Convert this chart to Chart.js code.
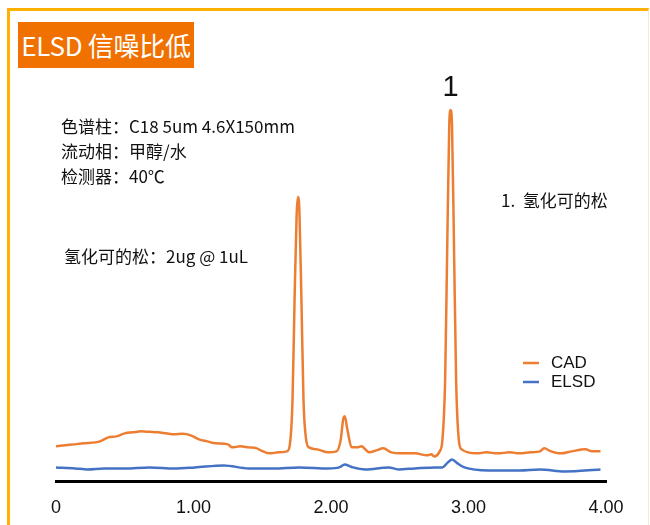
<!DOCTYPE html>
<html>
<head>
<meta charset="utf-8">
<script src="https://cdn.jsdelivr.net/npm/chart.js@4/dist/chart.umd.min.js"></script>
<style>
  html, body { margin: 0; padding: 0; background: #fff; }
  #wrap { position: relative; width: 650px; height: 525px; overflow: hidden; }
  #frame {
    position: absolute; left: 7px; top: 8px; right: 1px; bottom: -5px;
    border-top: 3px solid #FFB000; border-left: 3px solid #FFB000;
    border-right: 1px solid #F3EBDA;
  }
  #title {
    position: absolute; left: 18px; top: 22px; width: 176px; height: 46px;
    background: #F07100; color: #fff;
    font: 26px "Noto Sans CJK SC", "Noto Sans", sans-serif;
    line-height: 46px; text-align: center; letter-spacing: -0.3px;
  }
  canvas { position: absolute; left: 0; top: 0; }
</style>
</head>
<body>
<div id="wrap">
  <div id="frame"></div>
  <canvas id="chart-trace" width="650" height="527"></canvas>
  <div id="title">ELSD 信噪比低</div>
</div>
<script>
  // Retention time (min) and detector signal for each trace
  var cadTime = [0, 0.1, 0.2, 0.32, 0.38, 0.44, 0.5, 0.56, 0.62, 0.68, 0.74, 0.8, 0.86, 0.92, 0.98,
    1.04, 1.1, 1.16, 1.25, 1.28, 1.34, 1.4, 1.46, 1.49, 1.55, 1.62, 1.68, 1.7, 1.72, 1.735, 1.75,
    1.76, 1.77, 1.785, 1.8, 1.82, 1.84, 1.9, 1.98, 2.04, 2.07, 2.09, 2.1, 2.12, 2.15, 2.19, 2.22,
    2.28, 2.33, 2.38, 2.44, 2.52, 2.61, 2.7, 2.73, 2.75, 2.79, 2.81, 2.83, 2.845, 2.86, 2.87, 2.88,
    2.895, 2.91, 2.93, 2.95, 3.06, 3.13, 3.21, 3.3, 3.37, 3.45, 3.52, 3.55, 3.6, 3.67, 3.75, 3.85,
    3.9, 3.96];
  var cadSignal = [35, 36.5, 38, 40, 44, 45, 48, 49, 50, 49.5, 49, 48, 47, 47.5, 46,
    42, 40, 38, 37, 34, 35, 34, 33, 31, 28, 29, 30, 36, 81, 181, 266,
    284, 271, 181, 81, 41, 34, 32, 29, 30, 41, 63, 65, 51, 34, 34, 35,
    29, 31, 33, 29, 28, 28, 26, 27, 25, 30, 41, 101, 231, 356, 371, 356,
    231, 101, 41, 32, 28, 29, 28, 29, 28, 29, 30, 33, 30, 28, 30, 32,
    30, 30];

  var elsdTime = [0, 0.14, 0.23, 0.35, 0.5, 0.68, 0.86, 1.01, 1.22, 1.4, 1.58, 1.77, 1.98, 2.06,
    2.1, 2.14, 2.16, 2.25, 2.42, 2.49, 2.61, 2.76, 2.81, 2.85, 2.88, 2.92, 2.97, 3.15, 3.37, 3.52,
    3.7, 3.96];
  var elsdSignal = [14, 13, 12, 13, 13, 14, 13, 14, 16, 13, 13, 14, 13, 14,
    17, 15, 14, 12, 14, 12, 13, 14, 14, 19, 22, 18, 14, 11, 11, 12,
    10, 12];

  var tickLabels = ['0', '1.00', '2.00', '3.00', '4.00'];
  var seriesNames = ['CAD', 'ELSD'];
  var peakNames = ['1'];

  var notes = ['色谱柱：C18 5um 4.6X150mm', '流动相：甲醇/水', '检测器：40℃'];
  var sampleNote = '氢化可的松：2ug @ 1uL';
  var peakNote = '1.  氢化可的松';

  function toPoints(xs, ys) {
    return xs.map(function(x, i) { return { x: x, y: ys[i] }; });
  }

  var cjkFont = '"Noto Sans CJK SC", "Noto Sans", sans-serif';

  // Text blocks, peak number and the small legend
  var annotations = {
    id: 'annotations',
    afterDraw: function(chart) {
      var ctx = chart.ctx;
      var xs = chart.scales.x, ys = chart.scales.y;
      ctx.save();
      ctx.fillStyle = '#111';
      ctx.textBaseline = 'middle';
      ctx.textAlign = 'left';
      ctx.font = '17px ' + cjkFont;
      notes.forEach(function(t, i) { ctx.fillText(t, 61, 127 + i * 25); });
      ctx.fillText(sampleNote, 64, 257);
      ctx.fillText(peakNote, 501, 201);

      // number over the tallest peak
      var top = cadSignal.indexOf(Math.max.apply(null, cadSignal));
      ctx.textAlign = 'center';
      ctx.textBaseline = 'bottom';
      ctx.font = '29px "Liberation Sans", Arial, sans-serif';
      ctx.fillText(peakNames[0], xs.getPixelForValue(cadTime[top]), ys.getPixelForValue(cadSignal[top]) - 8);

      // legend
      ctx.textAlign = 'left';
      ctx.textBaseline = 'middle';
      ctx.font = '17px "Liberation Sans", Arial, sans-serif';
      chart.data.datasets.forEach(function(ds, i) {
        var y = 363 + i * 19;
        ctx.strokeStyle = ds.borderColor;
        ctx.lineWidth = 2.5;
        ctx.beginPath();
        ctx.moveTo(523, y);
        ctx.lineTo(539, y);
        ctx.stroke();
        ctx.fillText(seriesNames[i], 551, y);
      });
      ctx.restore();
    }
  };

  var traceChart = new Chart(document.getElementById('chart-trace').getContext('2d'), {
    type: 'line',
    data: {
      datasets: [{
        label: seriesNames[0],
        data: toPoints(cadTime, cadSignal),
        borderColor: '#ED7D31',
        borderWidth: 2.5,
        pointRadius: 0,
        cubicInterpolationMode: 'monotone',
        fill: false
      }, {
        label: seriesNames[1],
        data: toPoints(elsdTime, elsdSignal),
        borderColor: '#4472C4',
        borderWidth: 2.5,
        pointRadius: 0,
        cubicInterpolationMode: 'monotone',
        fill: false
      }]
    },
    options: {
      responsive: false,
      animation: false,
      layout: { padding: { left: 56, right: 44, top: 81, bottom: 0 } },
      plugins: { legend: { display: false }, tooltip: { enabled: false } },
      scales: {
        x: {
          type: 'linear',
          min: 0,
          max: 4,
          grid: { display: false },
          border: { display: true, color: '#000', width: 3 },
          ticks: {
            stepSize: 1,
            padding: 8,
            color: '#111',
            font: { family: '"Liberation Sans", Arial, sans-serif', size: 18 },
            callback: function(v) { return tickLabels[v]; }
          }
        },
        y: {
          display: false,
          min: 0,
          max: 400
        }
      }
    },
    plugins: [annotations]
  });
</script>
</body>
</html>
